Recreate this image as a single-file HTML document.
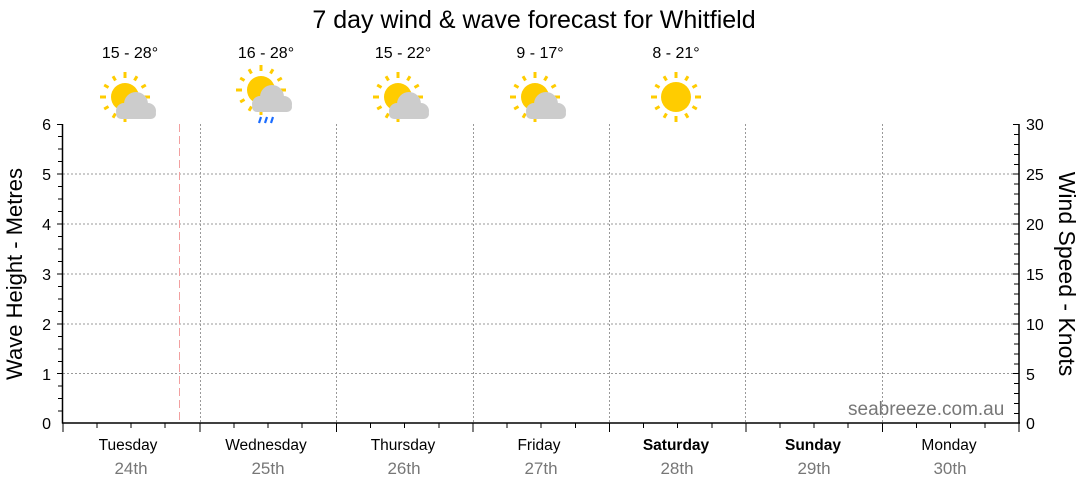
<!DOCTYPE html>
<html><head><meta charset="utf-8"><style>
body{margin:0;background:#fff;}
svg{display:block;font-family:"Liberation Sans",sans-serif;}
</style></head><body>
<svg width="1080" height="490" viewBox="0 0 1080 490" xmlns="http://www.w3.org/2000/svg">
<defs>
<g id="rays" stroke="#fc0" stroke-width="3">
<line x1="0" y1="-19" x2="0" y2="-25"/><line x1="0" y1="19" x2="0" y2="25"/>
<line x1="-19" y1="0" x2="-25" y2="0"/><line x1="19" y1="0" x2="25" y2="0"/>
<line x1="9.5" y1="-16.5" x2="12" y2="-20.8"/><line x1="-9.5" y1="-16.5" x2="-12" y2="-20.8"/>
<line x1="9.5" y1="16.5" x2="12" y2="20.8"/><line x1="-9.5" y1="16.5" x2="-12" y2="20.8"/>
<line x1="16.5" y1="-9.5" x2="20.8" y2="-12"/><line x1="-16.5" y1="-9.5" x2="-20.8" y2="-12"/>
<line x1="16.5" y1="9.5" x2="20.8" y2="12"/><line x1="-16.5" y1="9.5" x2="-20.8" y2="12"/>
</g>
<g id="cloud" fill="#ccc">
<circle cx="1" cy="-1" r="12"/><circle cx="-11" cy="6" r="8"/><circle cx="13" cy="6" r="8"/>
<rect x="-19" y="4" width="40" height="10" rx="5"/>
</g>
<g id="sc">
<use href="#rays"/>
<circle r="14" fill="#fc0"/>
<use href="#cloud" transform="translate(10,8)"/>
</g>
</defs>
<text x="534" y="28" font-size="25" text-anchor="middle" fill="#000">7 day wind &amp; wave forecast for Whitfield</text>
<g font-size="16" text-anchor="middle" fill="#000">
<text x="130" y="58">15 - 28°</text><text x="266" y="58">16 - 28°</text><text x="403" y="58">15 - 22°</text><text x="540" y="58">9 - 17°</text><text x="676" y="58">8 - 21°</text>
</g>
<use href="#sc" x="125" y="97"/>
<use href="#sc" x="261" y="90"/>
<g stroke="#1a6cff" stroke-width="2.2"><line x1="259" y1="123" x2="261" y2="117"/><line x1="265" y1="123" x2="267" y2="117"/><line x1="271" y1="123" x2="273" y2="117"/></g>
<use href="#sc" x="398" y="97"/>
<use href="#sc" x="535" y="97"/>
<use href="#rays" x="676" y="97"/>
<circle cx="676" cy="97" r="15" fill="#fc0"/>
<g stroke="#999" stroke-width="1" stroke-dasharray="2,2" fill="none">
<line x1="63" y1="174" x2="1019" y2="174"/><line x1="63" y1="224" x2="1019" y2="224"/><line x1="63" y1="274" x2="1019" y2="274"/><line x1="63" y1="324" x2="1019" y2="324"/><line x1="63" y1="373.5" x2="1019" y2="373.5"/>
<line x1="200.5" y1="124" x2="200.5" y2="423"/><line x1="336.5" y1="124" x2="336.5" y2="423"/><line x1="473.5" y1="124" x2="473.5" y2="423"/><line x1="609.5" y1="124" x2="609.5" y2="423"/><line x1="745.5" y1="124" x2="745.5" y2="423"/><line x1="882.5" y1="124" x2="882.5" y2="423"/>
</g>
<line x1="179.5" y1="124" x2="179.5" y2="423" stroke="#f2a0a0" stroke-width="1" stroke-dasharray="8,4"/>
<g stroke="#000" stroke-width="1.5" fill="none">
<line x1="62.5" y1="124" x2="62.5" y2="423.5"/>
<line x1="1019" y1="124" x2="1019" y2="423.5"/>
<line x1="62" y1="423" x2="1020" y2="423"/>
</g>
<text x="848" y="415" font-size="19" fill="#777">seabreeze.com.au</text>
<g font-size="16" fill="#000" text-anchor="end">
<text x="51" y="130">6</text><text x="51" y="180">5</text><text x="51" y="230">4</text><text x="51" y="280">3</text><text x="51" y="330">2</text><text x="51" y="380">1</text><text x="51" y="429">0</text>
</g>
<g font-size="16" fill="#000">
<text x="1026" y="130">30</text><text x="1026" y="180">25</text><text x="1026" y="230">20</text><text x="1026" y="280">15</text><text x="1026" y="330">10</text><text x="1026" y="380">5</text><text x="1026" y="429">0</text>
</g>
<text transform="translate(22,274) rotate(-90)" font-size="22" text-anchor="middle" fill="#000">Wave Height - Metres</text>
<text transform="translate(1059,274) rotate(90)" font-size="23" text-anchor="middle" fill="#000">Wind Speed - Knots</text>
<g font-size="15.5" text-anchor="middle" fill="#000">
<text x="128" y="450">Tuesday</text><text x="266" y="450">Wednesday</text><text x="403" y="450">Thursday</text><text x="539" y="450">Friday</text><text x="676" y="450" font-weight="bold">Saturday</text><text x="813" y="450" font-weight="bold">Sunday</text><text x="949" y="450">Monday</text>
</g>
<g font-size="17" text-anchor="middle" fill="#777">
<text x="131" y="474">24th</text><text x="268" y="474">25th</text><text x="404" y="474">26th</text><text x="541" y="474">27th</text><text x="677" y="474">28th</text><text x="814" y="474">29th</text><text x="950" y="474">30th</text>
</g>
<g stroke="#000" stroke-width="1">
<path d="M57 124.5h6M58 136.5h5M58 149h5M58 161.5h5M57 174h6M58 186.5h5M58 199h5M58 211.5h5M57 224h6M58 236.5h5M58 249h5M58 261.5h5M57 274h6M58 286.5h5M58 299h5M58 311.5h5M57 324h6M58 336.5h5M58 349h5M58 361.5h5M57 373.5h6M58 386h5M58 398.5h5M58 411h5"/>
<path d="M1019 124.5h-6M1019 134.5h-5M1019 144.5h-5M1019 154.5h-5M1019 164.5h-5M1019 174h-6M1019 184h-5M1019 194h-5M1019 204h-5M1019 214h-5M1019 224h-6M1019 234h-5M1019 244h-5M1019 254h-5M1019 264h-5M1019 274h-6M1019 284h-5M1019 294h-5M1019 304h-5M1019 314h-5M1019 324h-6M1019 334h-5M1019 344h-5M1019 354h-5M1019 364h-5M1019 373.5h-6M1019 383.5h-5M1019 393.5h-5M1019 403.5h-5M1019 413.5h-5"/>
<path d="M63 423v9M200 423v9M336.5 423v9M473 423v9M609.5 423v9M746 423v9M882.5 423v9M1019 423v9"/>
<path d="M97 423v5M131 423v5M165 423v5M234 423v5M268 423v5M302 423v5M370.5 423v5M404.5 423v5M439 423v5M507 423v5M541 423v5M575.5 423v5M643.5 423v5M677.5 423v5M712 423v5M780 423v5M814 423v5M848 423v5M916.5 423v5M950.5 423v5M985 423v5"/>
</g>
</svg>
</body></html>
